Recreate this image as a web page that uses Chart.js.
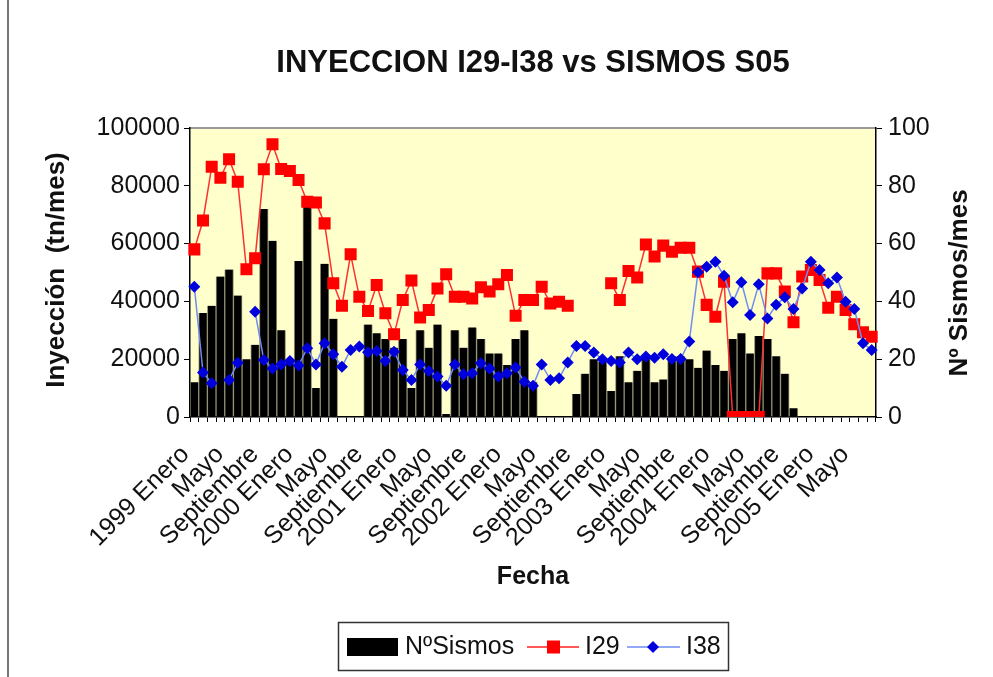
<!DOCTYPE html>
<html>
<head>
<meta charset="utf-8">
<title>INYECCION I29-I38 vs SISMOS S05</title>
<script src="https://cdn.jsdelivr.net/npm/chart.js@4.4.0/dist/chart.umd.min.js"></script>
<style>
  html, body { margin: 0; padding: 0; background: #fff; }
  #wrap { position: relative; width: 993px; height: 677px; }
  canvas { display: block; }
</style>
</head>
<body>
<div id="wrap"><canvas id="chart" width="993" height="677"></canvas></div>
<script>
const MONTHS = ['Enero', 'Febrero', 'Marzo', 'Abril', 'Mayo', 'Junio', 'Julio', 'Agosto', 'Septiembre', 'Octubre', 'Noviembre', 'Diciembre'];
const YEARS = [1999, 2000, 2001, 2002, 2003, 2004, 2005];
const N_MONTHS = 79; // enero 1999 .. julio 2005

// NºSismos por mes (eje derecho)
const sismos = [12, 36, 38.5, 48.6, 51, 42, 20, 25, 72, 61, 30, 19, 54, 73, 10, 53, 34, null, null, null,
  32, 29, 27, 24, 27, 10, 30, 24, 32, 1, 30, 24, 31, 27, 22, 22, 18, 27, 30, 12,
  null, null, null, null, 8, 15, 20, 19, 9, 21, 12, 16, 21, 12, 13, 21, 21, 20, 17, 23,
  18, 16, 27, 29, 22, 28, 27, 21, 15, 3, null, null, null, null, null, null, null, null, null];

// inyeccion I29 (tn/mes)
const i29 = [58000, 68000, 86600, 82800, 89200, 81400, 51100, 54900, 85700, 94400,
  85800, 85100, 82000, 74500, 74200, 67000, 46300, 38500, 56300, 41600,
  36700, 45700, 35900, 28600, 40500, 47200, 34400, 37000, 44500, 49400,
  41600, 41600, 41000, 44900, 43400, 45900, 49100, 35000, 40500, 40500,
  45100, 39300, 39900, 38500, null, null, null, null, 46300, 40500,
  50500, 48300, 59700, 55500, 59300, 57200, 58600, 58600, 50300, 38800,
  34700, 46800, 0, 0, 0, 0, 49700, 49700, 43400, 32800,
  48600, 50900, 47400, 37800, 41600, 37000, 32100, 29300, 27800];

// inyeccion I38 (tn/mes)
const i38 = [45100, 15400, 11700, null, 12800, 18800, null, 36400, 19700, 16800,
  18200, 19400, 17800, 23800, 18200, 25500, 21700, 17400, 23200, 24400,
  22400, 22800, 19400, 22600, 16300, 12800, 18200, 15900, 14000, 10800,
  18200, 14800, 15100, 18600, 16800, 14000, 15100, 17100, 12200, 10800,
  18200, 12800, 13400, 18900, 24600, 24600, 22300, 20000, 19400, 18900,
  22300, 20000, 20900, 20500, 21700, 20100, 20100, 26100, 50100, 52000,
  53700, 48900, 39700, 46600, 35300, 45900, 34100, 38800, 41400, 37400,
  44500, 53700, 50900, 46300, 48300, 39900, 37400, 25500, 23200];

const labels = [];
YEARS.forEach((y) => MONTHS.forEach((m, k) => {
  if (labels.length < N_MONTHS) labels.push(k === 0 ? `${y} ${m}` : m);
}));

const FONT = "'Liberation Sans', Arial, sans-serif";
const TXT = '#111';

const decor = {
  id: 'decor',
  beforeDraw(chart) {
    const { ctx, chartArea: a } = chart;
    ctx.save();
    ctx.fillStyle = '#ffffcc';
    ctx.fillRect(a.left, a.top, a.right - a.left, a.bottom - a.top);
    ctx.strokeStyle = '#999';
    ctx.lineWidth = 2;
    ctx.beginPath();
    ctx.moveTo(a.left, a.top);
    ctx.lineTo(a.right, a.top);
    ctx.stroke();
    // marco exterior
    ctx.strokeStyle = '#777';
    ctx.beginPath();
    ctx.moveTo(8, 0);
    ctx.lineTo(8, 677);
    ctx.stroke();
    ctx.restore();
  },
  afterDraw(chart) {
    const { ctx } = chart;
    ctx.save();
    ctx.fillStyle = TXT;
    ctx.textAlign = 'center';
    ctx.textBaseline = 'middle';
    ctx.font = `bold 31px ${FONT}`;
    ctx.fillText('INYECCION I29-I38 vs SISMOS S05', 533, 63);
    ctx.font = `bold 25px ${FONT}`;
    ctx.fillText('Fecha', 533, 577);

    ctx.font = `bold 26px ${FONT}`;
    ctx.translate(57, 270);
    ctx.rotate(-Math.PI / 2);
    ctx.fillText('Inyección  (tn/mes)', 0, 0);
    ctx.setTransform(1, 0, 0, 1, 0, 0);
    ctx.translate(960, 283);
    ctx.rotate(-Math.PI / 2);
    ctx.fillText('Nº Sismos/mes', 0, 0);
    ctx.setTransform(1, 0, 0, 1, 0, 0);

    // leyenda
    const cy = 647;
    ctx.strokeStyle = '#333';
    ctx.lineWidth = 1.5;
    ctx.strokeRect(338.5, 622.5, 390, 48);
    ctx.fillStyle = '#000';
    ctx.fillRect(347, 638, 51, 18);
    ctx.font = `25px ${FONT}`;
    ctx.textAlign = 'left';
    ctx.fillStyle = TXT;
    ctx.fillText('NºSismos', 405, cy);
    ctx.strokeStyle = '#ff2020';
    ctx.lineWidth = 1.5;
    ctx.beginPath();
    ctx.moveTo(527, cy);
    ctx.lineTo(579, cy);
    ctx.stroke();
    ctx.fillStyle = '#ff0000';
    ctx.fillRect(547, cy - 6.5, 13, 13);
    ctx.fillStyle = TXT;
    ctx.fillText('I29', 585, cy);
    ctx.strokeStyle = '#6f8cf5';
    ctx.beginPath();
    ctx.moveTo(627, cy);
    ctx.lineTo(680, cy);
    ctx.stroke();
    ctx.fillStyle = '#0000dd';
    ctx.beginPath();
    ctx.moveTo(653, cy - 6);
    ctx.lineTo(659, cy);
    ctx.lineTo(653, cy + 6);
    ctx.lineTo(647, cy);
    ctx.closePath();
    ctx.fill();
    ctx.fillStyle = TXT;
    ctx.fillText('I38', 686, cy);
    ctx.restore();
  }
};

new Chart(document.getElementById('chart'), {
  data: {
    labels,
    datasets: [
      {
        type: 'line', label: 'I38', data: i38, yAxisID: 'y', order: 0,
        borderColor: '#6f8cf5', borderWidth: 1.5, spanGaps: false, tension: 0,
        pointStyle: 'rectRot', pointRadius: 6, pointBackgroundColor: '#0000dd', pointBorderWidth: 0
      },
      {
        type: 'line', label: 'I29', data: i29, yAxisID: 'y', order: 1,
        borderColor: '#ff3030', borderWidth: 1.5, spanGaps: false, tension: 0,
        pointStyle: 'rect', pointRadius: 8.5, pointBackgroundColor: '#ff0000', pointBorderWidth: 0
      },
      {
        type: 'bar', label: 'NºSismos', data: sismos, yAxisID: 'y1', order: 2,
        backgroundColor: '#000', borderColor: '#8f8d70',
        borderWidth: { left: 1, right: 1, top: 0, bottom: 0 },
        barPercentage: 1, categoryPercentage: 1
      }
    ]
  },
  options: {
    responsive: false,
    devicePixelRatio: 1,
    animation: false,
    layout: { padding: { top: 128, left: 0, right: 0, bottom: 0 } },
    plugins: { legend: { display: false }, tooltip: { enabled: false }, title: { display: false } },
    scales: {
      x: {
        offset: true,
        grid: { offset: true, drawOnChartArea: false, tickLength: 5, color: '#000' },
        border: { display: true, color: '#000', width: 1.5 },
        ticks: {
          autoSkip: false, minRotation: 45, maxRotation: 45, padding: 18, labelOffset: -9,
          color: TXT, font: { family: FONT, size: 25 },
          callback: (v, i) => (i % 4 === 0 ? labels[i] : '')
        },
        afterFit: (s) => { s.height = 260; }
      },
      y: {
        position: 'left', min: 0, max: 100000,
        grid: { drawOnChartArea: false, tickLength: 6, color: '#000' },
        border: { display: true, color: '#000', width: 1.5 },
        ticks: { stepSize: 10000, padding: 4, color: TXT, font: { family: FONT, size: 25 }, callback: (v) => String(v) },
        afterFit: (s) => { s.width = 190; }
      },
      y1: {
        position: 'right', min: 0, max: 100,
        grid: { drawOnChartArea: false, tickLength: 6, color: '#000' },
        border: { display: true, color: '#000', width: 1.5 },
        ticks: { stepSize: 10, padding: 6, color: TXT, font: { family: FONT, size: 25 }, callback: (v) => String(v) },
        afterFit: (s) => { s.width = 117; }
      }
    }
  },
  plugins: [decor]
});
</script>
</body>
</html>
